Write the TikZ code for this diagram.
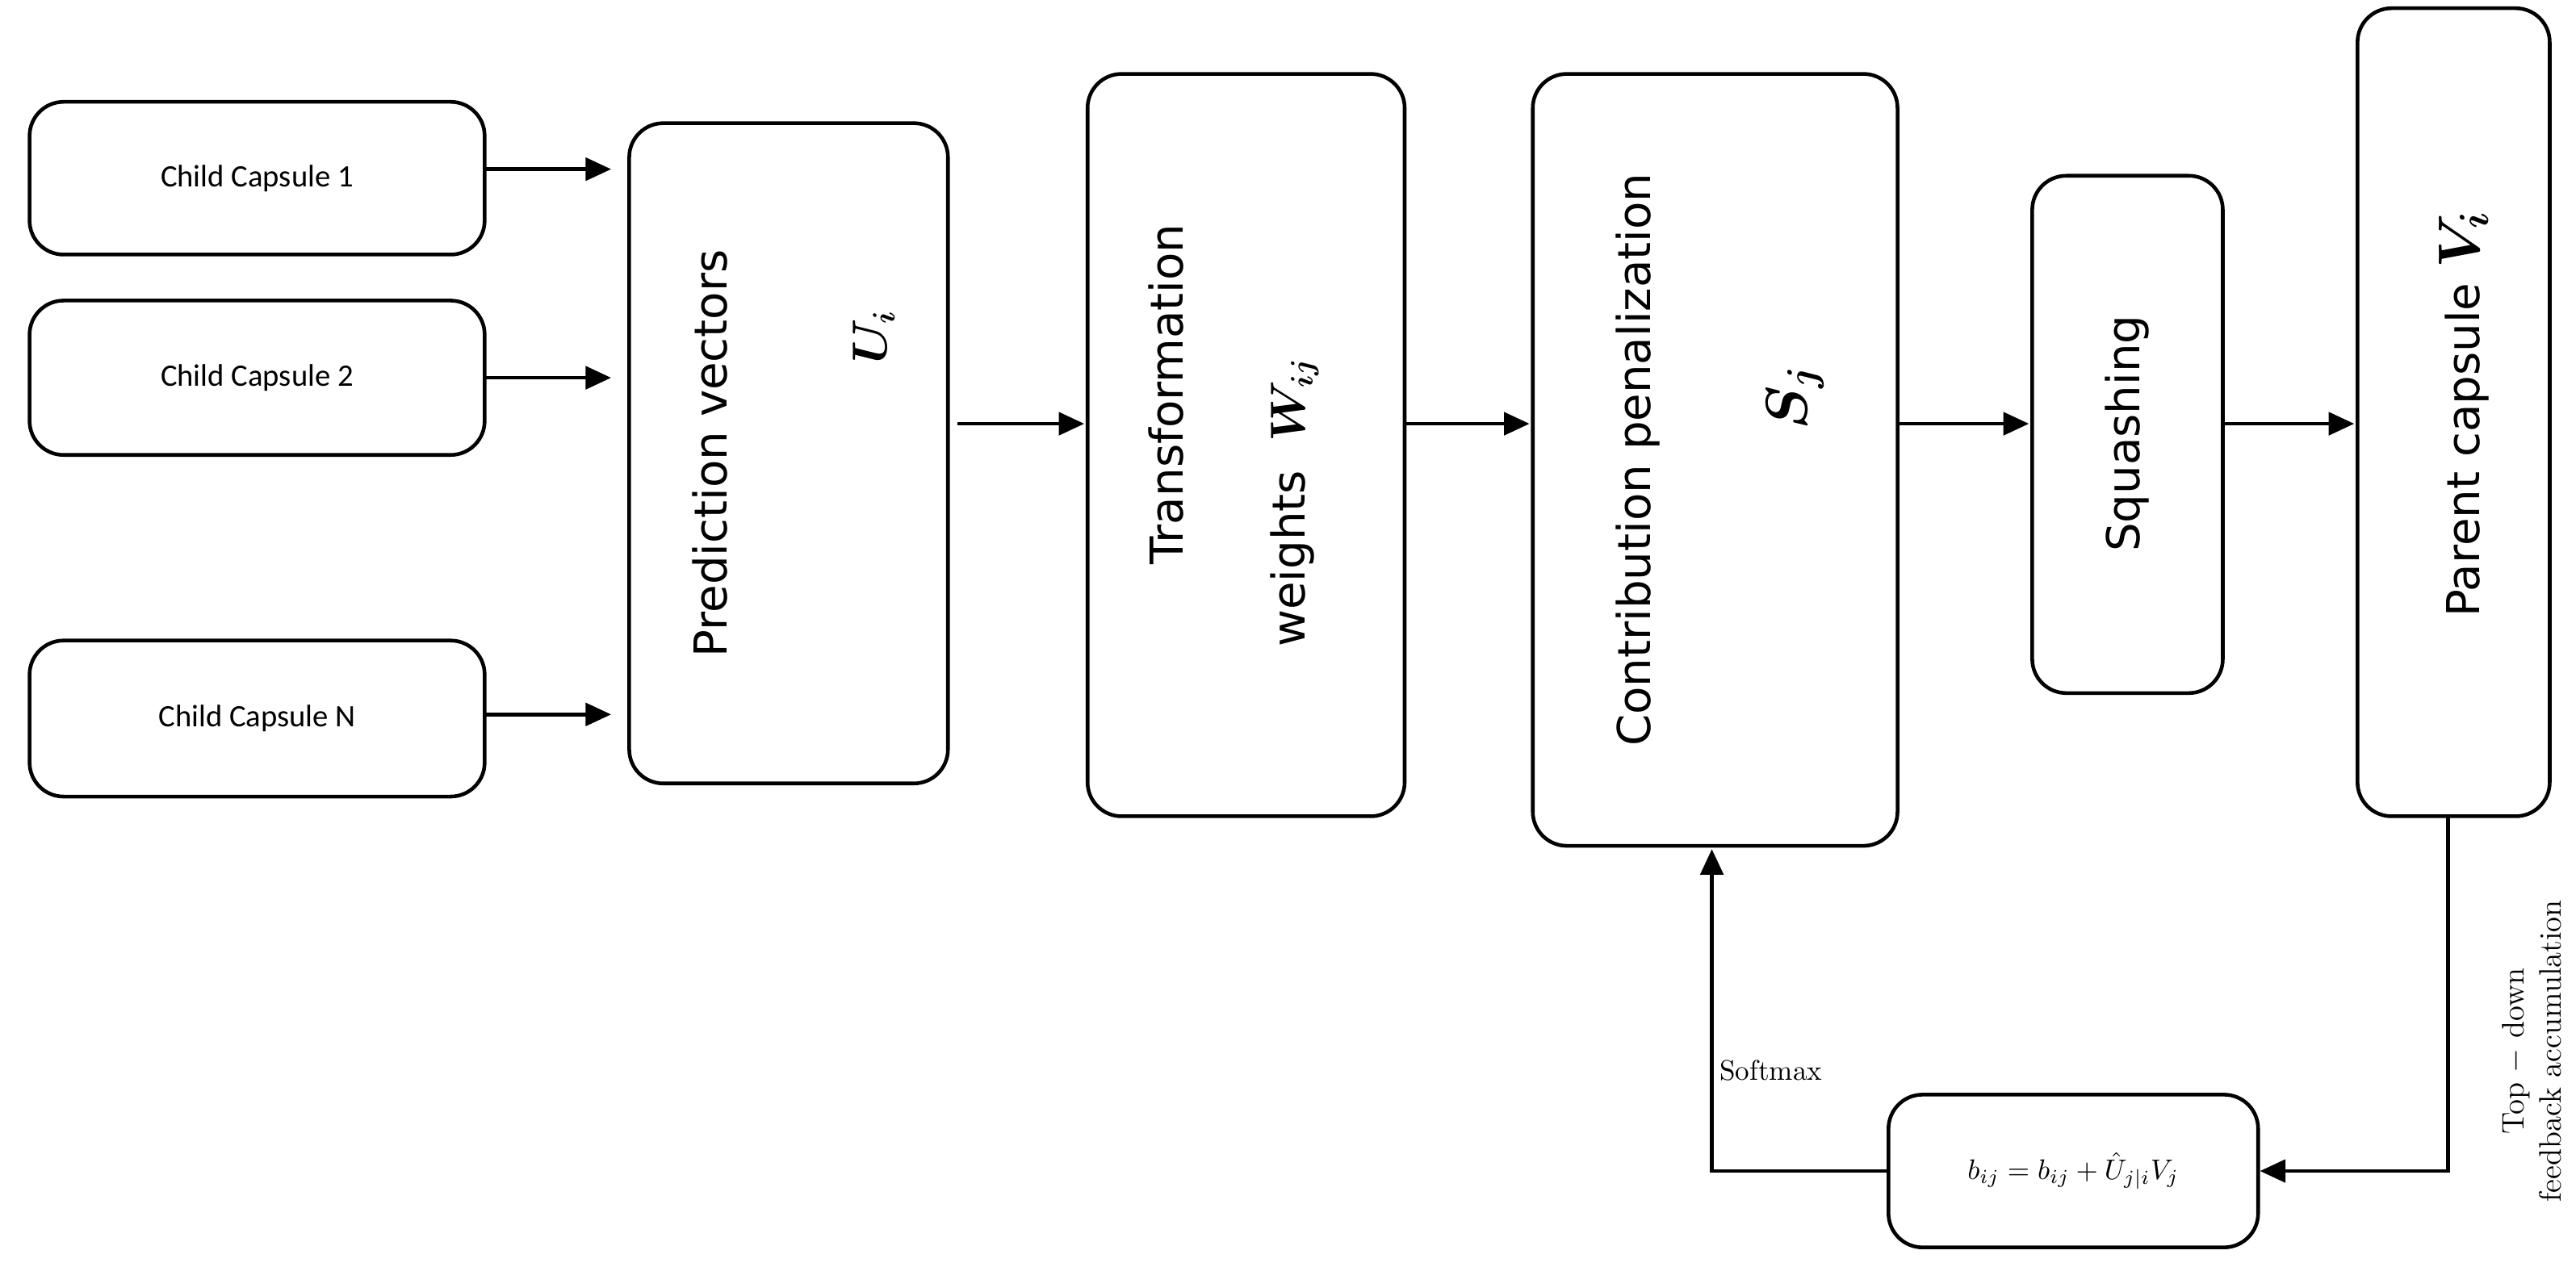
\documentclass[tikz,border=0pt]{standalone}
\usepackage{amsmath}
\usepackage{fontspec}
\newfontfamily\calfont{Carlito}
\newfontfamily\dvfont{DejaVu Sans}
\usetikzlibrary{arrows.meta}
\begin{document}
\begin{tikzpicture}[x=0.02035cm,y=-0.02035cm,
  box/.style={draw, line width=1.3pt, rounded corners=12pt, inner sep=0pt},
  arr/.style={-{Triangle[length=9pt,width=8pt]}, line width=1.3pt},
  child/.style={font=\calfont\fontsize{11}{13}\selectfont},
  rot/.style={rotate=90, font=\dvfont\fontsize{16}{18}\selectfont}]
  \useasboundingbox (0,0) rectangle (1568,784);
  % child capsules
  \draw[box] (18,62) rectangle (295,155) node[midway, child] (c1) {Child Capsule 1};
  \draw[box] (18,183) rectangle (295,277) node[midway, child] (c2) {Child Capsule 2};
  \draw[box] (18,390) rectangle (295,485) node[midway, child] (cn) {Child Capsule N};
  % main blocks
  \draw[box] (383,75) rectangle (577,477);
  \draw[box] (662,45) rectangle (855,497);
  \draw[box] (933,45) rectangle (1155,515);
  \draw[box] (1237,107) rectangle (1353,422);
  \draw[box] (1435,5) rectangle (1552,497);
  \coordinate (pb) at (1490,497);
  % texts
  \node[rot] at (432,276) {Prediction vectors};
  \node[rot] at (532,205) {$\boldsymbol{U_i}$};
  \node[rot] at (710,240) {Transformation};
  \node[rot, anchor=west] at (788,400) {weights\ \ $\boldsymbol{W_{ij}}$};
  \node[rot] at (997,280) {Contribution penalization};
  \node[rot] at (1093,242) {\fontsize{22}{24}\selectfont$\boldsymbol{S_j}$};
  \node[rot] at (1295,264) {Squashing};
  \node[rot] at (1500,252) {Parent capsule \fontsize{22}{24}\selectfont$\boldsymbol{V_i}$};
  % arrows
  \draw[arr] (295,103) -- (372,103);
  \draw[arr] (295,230) -- (372,230);
  \draw[arr] (295,435) -- (372,435);
  \draw[arr] (583,258) -- (660,258);
  \draw[arr] (855,258) -- (931,258);
  \draw[arr] (1155,258) -- (1235,258);
  \draw[arr] (1353,258) -- (1433,258);
  % feedback
  \node[box, minimum width=225*0.02035cm, minimum height=93*0.02035cm] (fb) at (1262,713)
    {\fontsize{10}{12}\selectfont$b_{ij}=b_{ij}+\hat{U}_{j|i}V_j$};
  \draw[arr] (pb) -- (1490,713) -- (fb.east);
  \draw[arr] (fb.west) -- (1042,713) -- (1042,517);
  \node[font=\fontsize{10}{12}\selectfont] at (1078,652) {Softmax};
  \node[rotate=90, font=\fontsize{11}{13}\selectfont, align=center] at (1541,640) {Top $-$ down\\feedback accumulation};
\end{tikzpicture}
\end{document}
